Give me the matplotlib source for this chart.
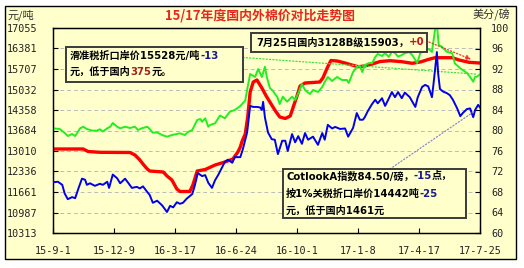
import matplotlib
matplotlib.use('Agg')
import matplotlib.pyplot as plt
import numpy as np
import pandas as pd
from matplotlib.patches import Rectangle
from matplotlib.offsetbox import TextArea, HPacker, VPacker, AnnotationBbox

plt.rcParams['font.family'] = ['DejaVu Sans', 'Noto Sans CJK SC']

# ---------------- data ----------------
start_date = '2015-09-01'
end_date = '2017-07-25'

red_days = [0, 49, 57, 76, 125, 133, 141, 146, 153, 157, 179, 185, 193, 201, 206, 222, 227, 234,
            247, 263, 279, 292, 300, 304, 307, 312, 316, 320, 325, 331, 339, 346, 352, 360, 368,
            377, 385, 391, 396, 401, 409, 433, 438, 445, 451, 461, 474, 485, 495, 506, 518, 531,
            547, 566, 583, 596, 610, 620, 648, 659, 675, 693]
red_vals = [13076, 13076, 12993, 12967, 12961, 12878, 12714, 12582, 12418, 12352, 12319, 12188,
            12056, 11760, 11678, 11678, 11892, 12352, 12401, 12549, 12648, 12747, 12977, 13141,
            13339, 13569, 14128, 14950, 15279, 15345, 15082, 14819, 14621, 14358, 14128, 14079,
            14161, 14523, 14819, 15148, 15246, 15279, 15411, 15740, 15986, 15970, 15904, 15838,
            15782, 15805, 15871, 15953, 15980, 15947, 15894, 15937, 16026, 16078, 16078, 16003,
            15927, 15903]

green_days = [0, 11, 19, 24, 31, 36, 44, 49, 55, 63, 71, 76, 81, 88, 93, 97, 104, 109, 117, 125,
              133, 138, 144, 153, 157, 162, 169, 177, 185, 193, 201, 206, 214, 219, 226, 234, 239,
              242, 247, 252, 255, 263, 271, 279, 287, 295, 304, 312, 316, 320, 328, 333, 339, 344,
              347, 352, 357, 364, 368, 373, 380, 388, 393, 398, 404, 409, 417, 422, 430, 437, 441,
              446, 453, 461, 469, 477, 480, 487, 493, 498, 502, 506, 513, 518, 523, 527, 534, 539,
              545, 550, 555, 560, 566, 571, 578, 583, 586, 591, 596, 604, 610, 615, 620, 623, 626,
              631, 639, 648, 652, 661, 665, 672, 677, 682, 685, 688, 693]
green_vals = [13756, 13733, 13602, 13503, 13569, 13503, 13756, 13809, 13733, 13684, 13677, 13724,
              13651, 13756, 13809, 13931, 13809, 13756, 13809, 13766, 13809, 13700, 13756, 13809,
              13733, 13612, 13619, 13536, 13480, 13536, 13569, 13592, 13536, 13635, 13700, 14029,
              14062, 13973, 14085, 13809, 13865, 13921, 14177, 14085, 14302, 14358, 14490, 14671,
              15125, 15542, 15444, 15707, 15444, 15782, 15444, 15082, 14983, 14786, 14556, 14796,
              14631, 14796, 14687, 14908, 15213, 15016, 14884, 15016, 14950, 15115, 15279, 15444,
              15312, 15444, 15345, 15345, 15246, 15608, 15772, 15805, 15608, 15838, 15903, 15903,
              16101, 16200, 16134, 16233, 16101, 16276, 16233, 16111, 16167, 16223, 16266, 16167,
              16068, 15903, 16223, 16332, 16364, 16266, 16989, 17187, 16496, 16440, 16276, 16223,
              15894, 15730, 15674, 15575, 15444, 15289, 15444, 15454, 15528]

blue_days = [0, 8, 15, 19, 24, 31, 36, 41, 47, 52, 55, 60, 68, 76, 81, 88, 91, 97, 104, 109, 117,
             122, 128, 136, 141, 146, 153, 157, 162, 169, 177, 185, 190, 195, 201, 206, 211, 217,
             226, 230, 235, 242, 247, 252, 258, 263, 268, 274, 279, 284, 291, 295, 304, 308, 315,
             320, 325, 331, 336, 339, 341, 344, 349, 355, 360, 365, 372, 377, 381, 388, 393, 398,
             404, 409, 414, 422, 430, 437, 441, 446, 453, 458, 466, 474, 479, 487, 493, 498, 503,
             506, 511, 518, 523, 527, 534, 539, 544, 550, 555, 560, 566, 571, 579, 588, 592, 599,
             604, 609, 615, 617, 620, 623, 625, 628, 633, 639, 644, 649, 656, 661, 665, 672, 677,
             682, 685, 690, 693]
blue_vals = [69.9, 70.0, 69.4, 67.7, 66.6, 67.0, 66.8, 68.6, 70.6, 70.4, 69.4, 69.7, 69.2, 69.6,
             69.4, 70.0, 68.8, 71.4, 70.7, 69.7, 70.6, 69.8, 68.8, 69.0, 68.7, 69.1, 68.0, 67.4,
             65.9, 66.3, 65.4, 64.1, 65.3, 65.0, 66.0, 65.7, 65.9, 66.7, 67.6, 69.2, 71.7, 71.1,
             71.3, 69.8, 68.8, 70.3, 71.3, 72.7, 73.9, 74.3, 73.7, 74.8, 74.8, 76.3, 79.6, 84.8,
             84.6, 84.6, 84.5, 84.0, 85.6, 82.5, 79.6, 78.3, 78.2, 75.4, 78.0, 78.0, 76.0, 79.3,
             77.7, 78.9, 77.4, 79.5, 78.2, 78.8, 77.2, 79.5, 78.2, 81.1, 80.4, 80.7, 80.3, 80.4,
             78.8, 80.5, 83.4, 82.1, 82.1, 82.6, 83.8, 85.2, 86.0, 85.3, 86.3, 84.8, 86.0, 87.5,
             86.5, 87.5, 86.3, 87.4, 86.5, 84.6, 86.5, 88.5, 88.9, 88.6, 86.5, 88.5, 91.8, 95.3,
             91.2, 88.1, 87.6, 87.3, 86.9, 86.0, 84.3, 82.8, 83.4, 84.2, 84.3, 82.6, 84.0, 85.0,
             84.5]

left_ticks = [10313, 10987, 11661, 12336, 13010, 13684, 14358, 15032, 15707, 16381, 17055]
right_ticks = [60, 64, 68, 72, 76, 80, 84, 88, 92, 96, 100]
x_tick_dates = ['2015-09-01', '2015-12-09', '2016-03-17', '2016-06-24', '2016-10-01',
                '2017-01-08', '2017-04-17', '2017-07-25']
x_tick_labels = ['15-9-1', '15-12-9', '16-3-17', '16-6-24', '16-10-1', '17-1-8', '17-4-17', '17-7-25']

title = '15/17年度国内外棉价对比走势图'
left_unit = '元/吨'
right_unit = '美分/磅'

box1_lines = [[('滑准税折口岸价15528元/吨', 'black'), ('-13', '#1A1A8C')],
              [('元，低于国内', 'black'), ('375', '#A02020'), ('元。', 'black')]]
box2_lines = [[('7月25日国内3128B级15903，', 'black'), ('+0', '#D01010')]]
box3_lines = [[('CotlookA指数84.50/磅，', 'black'), ('-15', '#1A1A8C'), ('点，', 'black')],
              [('按1%关税折口岸价14442吨', 'black'), ('-25', '#1A1A8C')],
              [('元，低于国内1461元', 'black')]]

# ---------------- figure ----------------
BG = '#FFFFCC'
W, H = 524, 268
fig = plt.figure(figsize=(W / 100, H / 100), dpi=100, facecolor='white')
fig.patches.append(Rectangle((5 / W, 9 / H), 511 / W, 253 / H, transform=fig.transFigure,
                             facecolor=BG, edgecolor='black', lw=1.0, zorder=-5))

ax = fig.add_axes([53 / W, 35 / H, 427 / W, 205 / H])
ax.set_facecolor(BG)
ax2 = ax.twinx()

t0 = pd.Timestamp(start_date)
red_x = t0 + pd.to_timedelta(red_days, unit='D')
green_x = t0 + pd.to_timedelta(green_days, unit='D')
blue_x = t0 + pd.to_timedelta(blue_days, unit='D')

ax.plot(red_x, red_vals, color='#FF0000', lw=2.4, solid_joinstyle='round', zorder=3)
ax.plot(green_x, green_vals, color='#22EE22', lw=1.4, zorder=4)
ax2.plot(blue_x, blue_vals, color='#0000EE', lw=1.4, zorder=3)

ax.set_xlim(pd.Timestamp(start_date), pd.Timestamp(end_date))
ax.set_ylim(left_ticks[0], left_ticks[-1])
ax2.set_ylim(right_ticks[0], right_ticks[-1])

TICKFONT = dict(fontfamily='DejaVu Sans Mono', fontsize=7.3, color='#222222')
ax.set_yticks(left_ticks)
ax.set_yticklabels([str(v) for v in left_ticks], **TICKFONT)
ax2.set_yticks(right_ticks)
ax2.set_yticklabels([str(v) for v in right_ticks], **TICKFONT)
ax.set_xticks(pd.to_datetime(x_tick_dates))
ax.set_xticklabels(x_tick_labels, **TICKFONT)

ax.tick_params(axis='y', direction='in', length=3.5, width=0.8, pad=11.5, left=True, right=False)
ax.tick_params(axis='x', direction='in', length=3.5, width=0.8, pad=9)
ax2.tick_params(axis='y', direction='in', length=3.5, width=0.8, pad=8)

ax.yaxis.grid(True, linestyle=(0, (4, 3)), color='#BBBBBB', lw=0.7)
ax.set_axisbelow(True)
for a in (ax, ax2):
    for s in a.spines.values():
        s.set_color('black')
        s.set_linewidth(0.9)

# texts
fig.text(0.497, 1 - 15 / H, title, color='#E8281E', fontsize=9.3, fontweight='bold',
         family=['Noto Sans CJK SC'], ha='center', va='center')
fig.text(8 / W, 1 - 15 / H, left_unit, color='#333333', fontsize=8,
         family=['Noto Sans CJK SC'], ha='left', va='center')
fig.text(473 / W, 1 - 15 / H, right_unit, color='#333333', fontsize=8,
         family=['Noto Sans CJK SC'], ha='left', va='center')

FAM = ['DejaVu Sans', 'Noto Sans CJK SC']
FS = 7.3


def make_box(lines, rect, text_xy, sep):
    x0, y0, x1, y1 = rect
    r = Rectangle((x0, y0), x1 - x0, y1 - y0, transform=ax2.transAxes, facecolor=BG,
                  edgecolor='#3A3A3A', lw=1.4, zorder=10, clip_on=False)
    ax2.add_patch(r)
    rows = []
    for parts in lines:
        rows.append(HPacker(children=[TextArea(t, textprops=dict(color=c, fontsize=FS,
                                                                 fontweight='bold', family=FAM))
                                      for t, c in parts], align='baseline', pad=0, sep=0))
    vp = VPacker(children=rows, align='left', pad=0, sep=sep)
    ab = AnnotationBbox(vp, text_xy, xycoords='axes fraction', box_alignment=(0, 1),
                        frameon=False, pad=0, annotation_clip=False)
    ab.set_zorder(11)
    ax2.add_artist(ab)


def fx(px):
    return (px - 53) / 427


def fy(py):
    return (233 - py) / 205


make_box(box1_lines, (fx(66), fy(82), fx(243), fy(47)), (fx(70), fy(51)), 4)
make_box(box2_lines, (fx(251), fy(52), fx(427), fy(33)), (fx(256), fy(37)), 4)
make_box(box3_lines, (fx(283), fy(218), fx(466), fy(169)), (fx(286), fy(171)), 5)

# connectors
ax.annotate('', xy=(green_x[-1], green_vals[-1]), xytext=(fx(243), fy(57.5)),
            textcoords='axes fraction',
            arrowprops=dict(arrowstyle='-', color='#44DD44', lw=0.9, linestyle=':',
                            shrinkA=0, shrinkB=2), zorder=5)
ax.annotate('', xy=(red_x[-1], red_vals[-1]), xytext=(fx(429), fy(42)),
            textcoords='axes fraction',
            arrowprops=dict(arrowstyle='-|>', color='#EE3333', lw=0.9, linestyle=':',
                            mutation_scale=7, shrinkA=0, shrinkB=7), zorder=5)
ax2.annotate('', xy=(blue_x[-1], blue_vals[-1]), xytext=(fx(390), fy(169)),
             textcoords='axes fraction',
             arrowprops=dict(arrowstyle='-', color='#8888CC', lw=0.9, linestyle=':',
                             shrinkA=0, shrinkB=6), zorder=5)

fig.savefig('out.png', dpi=100, facecolor='white')
